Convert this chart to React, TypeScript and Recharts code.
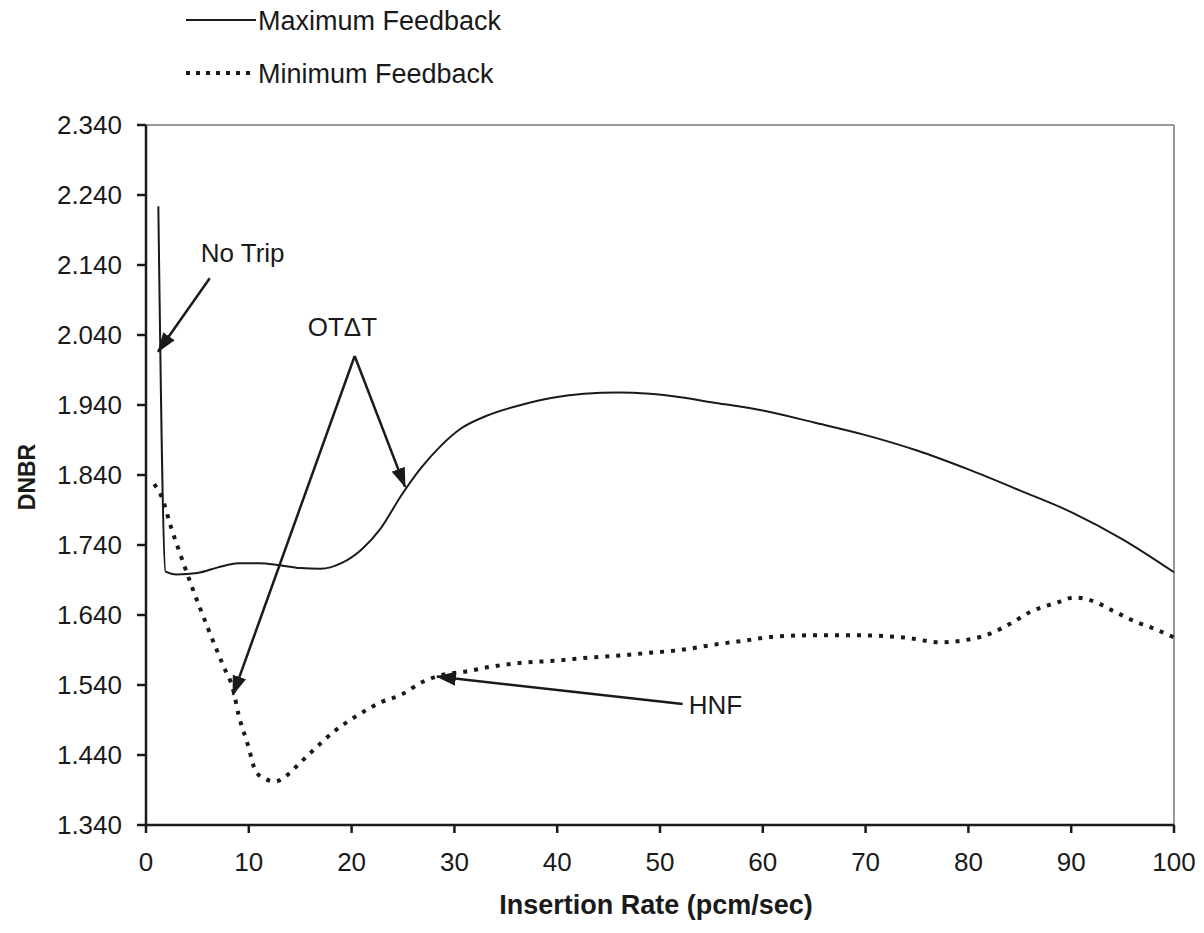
import React from 'react';
import { LineChart, Line, XAxis, YAxis, ReferenceLine, ReferenceDot, Legend } from 'recharts';

const FONT = '"Liberation Sans", Arial, sans-serif';
const INK = '#1a1a1a';

// Maximum feedback curve (insertion rate, DNBR)
const maxRate = [1.2, 1.9, 3, 5, 7, 9, 11, 13, 15, 17, 19, 21, 22.8, 24.8, 26.7, 28.7, 30.6, 33.2, 36.2, 39.4, 42.6, 46, 49, 52, 55, 60, 65, 70, 75, 80, 85, 90, 95, 100];
const maxDnbr = [2.224, 1.702, 1.698, 1.7, 1.708, 1.714, 1.714, 1.711, 1.707, 1.706, 1.714, 1.734, 1.763, 1.81, 1.849, 1.882, 1.906, 1.925, 1.939, 1.95, 1.956, 1.958, 1.956, 1.951, 1.944, 1.932, 1.915, 1.897, 1.875, 1.848, 1.818, 1.787, 1.748, 1.701];

// Minimum feedback curve
const minRate = [0.8, 1.6, 2.4, 3.4, 4.4, 6, 7.5, 8.5, 9.0, 9.9, 10.7, 11.6, 12.5, 13.8, 14.8, 16.5, 18.5, 20.5, 22.8, 24.8, 27, 29, 31, 33.5, 36, 40, 43, 46, 49, 52, 55, 58.5, 61, 65, 69, 73.7, 77.3, 79.6, 81.7, 84, 86.1, 88.7, 90.3, 91.9, 94.2, 96.5, 97.8, 100];
const minDnbr = [1.827, 1.806, 1.767, 1.724, 1.683, 1.622, 1.568, 1.532, 1.498, 1.455, 1.416, 1.406, 1.402, 1.412, 1.426, 1.45, 1.476, 1.496, 1.515, 1.526, 1.545, 1.555, 1.559, 1.566, 1.571, 1.575, 1.579, 1.582, 1.586, 1.59, 1.597, 1.604, 1.609, 1.611, 1.611, 1.608, 1.601, 1.604, 1.611, 1.627, 1.645, 1.658, 1.665, 1.661, 1.645, 1.629, 1.622, 1.608];

const xTicks = [0, 10, 20, 30, 40, 50, 60, 70, 80, 90, 100];
const yTicks = [1.34, 1.44, 1.54, 1.64, 1.74, 1.84, 1.94, 2.04, 2.14, 2.24, 2.34];

const zip = (xs: number[], ys: number[]) => xs.map((x, i) => ({ x, y: ys[i] }));
const maxData = zip(maxRate, maxDnbr);
const minData = zip(minRate, minDnbr);

const labelStyle = { fontSize: 26, fill: INK, fontFamily: FONT };

// zero-height wrapper so the legend doesn't push the plot down
const LegendBox = ({ payload }: any) => (
  <div style={{ height: 0, overflow: 'visible' }}>
    <svg width={560} height={100} style={{ overflow: 'visible', display: 'block' }}>
      {(payload || []).map((p: any, i: number) => (
        <g key={p.value}>
          <line
            x1={186}
            x2={256}
            y1={20 + i * 53}
            y2={20 + i * 53}
            stroke={INK}
            strokeWidth={i === 0 ? 2 : 4}
            strokeDasharray={i === 0 ? undefined : '4 6'}
          />
          <text x={258} y={20 + i * 53} dy="0.36em" fontSize={27} fill={INK} fontFamily={FONT}>
            {p.value}
          </text>
        </g>
      ))}
    </svg>
  </div>
);

const YTitle = ({ viewBox }: any) => {
  const cx = viewBox.x + 27;
  const cy = 477;
  return (
    <text x={cx} y={cy} transform={`rotate(-90, ${cx}, ${cy})`} textAnchor="middle" dy="0.36em"
      fontSize={23} fontWeight="bold" fill={INK} fontFamily={FONT}>
      DNBR
    </text>
  );
};

const XTitle = ({ viewBox }: any) => (
  <text x={viewBox.x + viewBox.width / 2 - 4} y={viewBox.y + 89} textAnchor="middle"
    fontSize={27} fontWeight="bold" fill={INK} fontFamily={FONT}>
    Insertion Rate (pcm/sec)
  </text>
);

export default function App() {
  return (
    <div style={{ position: 'absolute', left: 0, top: 0, width: 1204, height: 933, background: '#fff' }}>
      <LineChart width={1204} height={933} margin={{ top: 125, right: 30, bottom: 0, left: 0 }}>
        <defs>
          <marker id="head" markerUnits="userSpaceOnUse" markerWidth={20} markerHeight={14} refX={19} refY={7} orient="auto">
            <path d="M0,0 L20,7 L0,14 z" fill={INK} />
          </marker>
        </defs>
        <XAxis
          type="number"
          dataKey="x"
          domain={[0, 100]}
          ticks={xTicks}
          interval={0}
          height={108}
          allowDuplicatedCategory={false}
          axisLine={{ stroke: INK, strokeWidth: 2.5 }}
          tickLine={{ stroke: INK, strokeWidth: 2.5 }}
          tickSize={8}
          tickMargin={20}
          tick={labelStyle}
          label={<XTitle />}
        />
        <YAxis
          type="number"
          dataKey="y"
          domain={[1.34, 2.34]}
          ticks={yTicks}
          interval={0}
          width={146}
          axisLine={{ stroke: INK, strokeWidth: 2.5 }}
          tickLine={{ stroke: INK, strokeWidth: 2.5 }}
          tickSize={9}
          tickMargin={15}
          tick={labelStyle}
          tickFormatter={(v: number) => v.toFixed(3)}
          label={<YTitle />}
        />
        <ReferenceLine y={2.34} stroke="#777" strokeWidth={1.5} />
        <ReferenceLine x={100} stroke="#777" strokeWidth={1.5} />
        <Legend verticalAlign="top" align="left" height={0} wrapperStyle={{ top: 0, left: 0, height: 0 }} content={<LegendBox />} />
        <Line
          data={maxData}
          dataKey="y"
          name="Maximum Feedback"
          type="monotone"
          stroke={INK}
          strokeWidth={2}
          dot={false}
          isAnimationActive={false}
        />
        <Line
          data={minData}
          dataKey="y"
          name="Minimum Feedback"
          type="monotone"
          stroke={INK}
          strokeWidth={4}
          strokeDasharray="4 7"
          dot={false}
          isAnimationActive={false}
        />
        {/* annotation arrows */}
        <ReferenceLine segment={[{ x: 6.2, y: 2.121 }, { x: 1.17, y: 2.016 }]} stroke={INK} strokeWidth={2.5} markerEnd="url(#head)" />
        <ReferenceLine segment={[{ x: 20.3, y: 2.01 }, { x: 8.46, y: 1.526 }]} stroke={INK} strokeWidth={2.5} markerEnd="url(#head)" />
        <ReferenceLine segment={[{ x: 20.3, y: 2.01 }, { x: 25.2, y: 1.823 }]} stroke={INK} strokeWidth={2.5} markerEnd="url(#head)" />
        <ReferenceLine segment={[{ x: 52.2, y: 1.513 }, { x: 28.3, y: 1.552 }]} stroke={INK} strokeWidth={2.5} markerEnd="url(#head)" />
        <ReferenceDot x={9.4} y={2.157} r={0} fill="none" stroke="none" label={{ value: 'No Trip', position: 'center', ...labelStyle }} />
        <ReferenceDot x={19.1} y={2.052} r={0} fill="none" stroke="none" label={{ value: 'OTΔT', position: 'center', ...labelStyle }} />
        <ReferenceDot x={55.4} y={1.512} r={0} fill="none" stroke="none" label={{ value: 'HNF', position: 'center', ...labelStyle }} />
      </LineChart>
    </div>
  );
}
